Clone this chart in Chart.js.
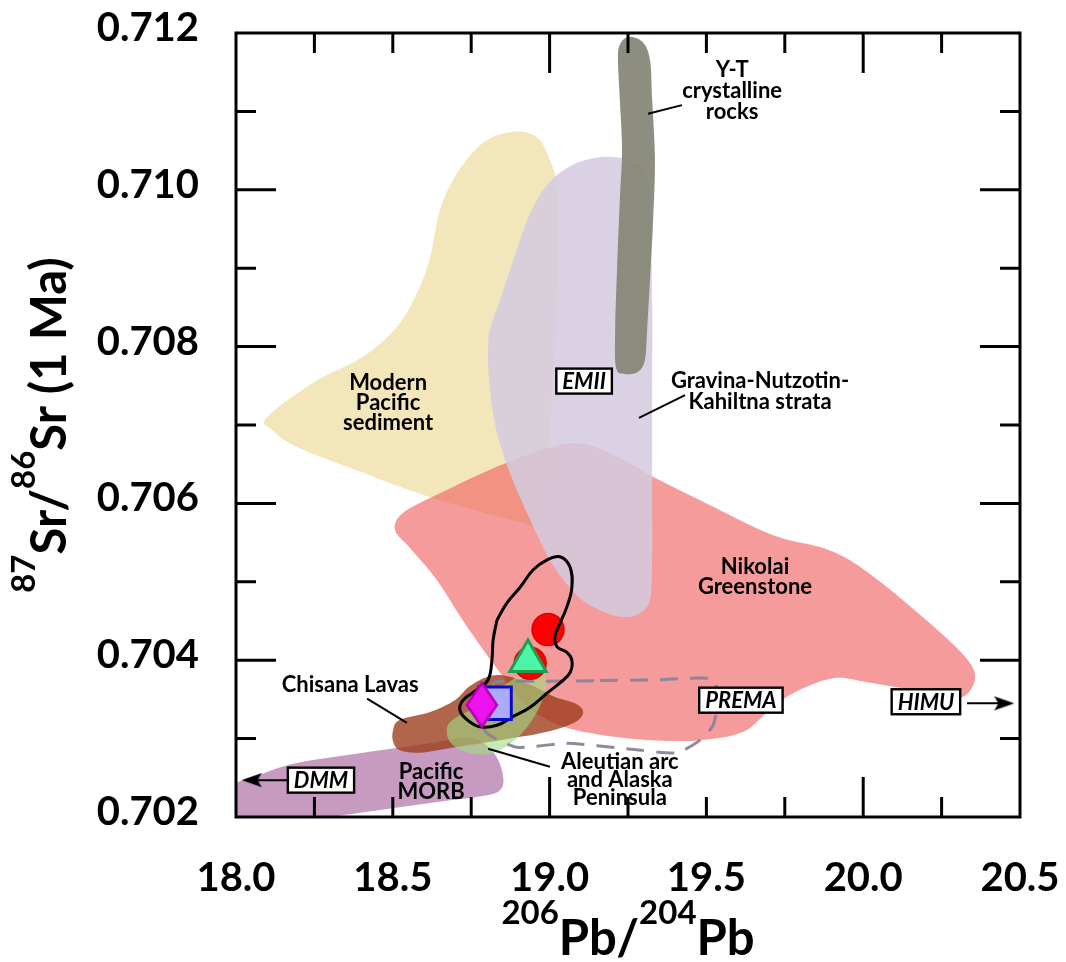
<!DOCTYPE html>
<html>
<head>
<meta charset="utf-8">
<title>87Sr/86Sr vs 206Pb/204Pb</title>
<script src="https://cdn.jsdelivr.net/npm/chart.js@4.4.1/dist/chart.umd.min.js"></script>
<style>
  html, body { margin: 0; padding: 0; background: #fff; }
  #wrap { width: 1066px; height: 962px; }
</style>
</head>
<body>
<div id="wrap"><canvas id="isoChart" width="1066" height="962"></canvas></div>
<script>
// ---- fields (206Pb/204Pb, 87Sr/86Sr) ----
const morbField = [[17.965,0.70234],[18.077,0.70254],[18.195,0.70269],[18.405,0.70282],[18.619,0.70294],[18.746,0.70301],[18.820,0.70283],[18.851,0.70254],[18.842,0.70234],[18.778,0.70226],[18.619,0.70218],[18.459,0.70209],[18.300,0.70200],[18.204,0.70194],[17.965,0.70190]];
const sedimentField = [[18.099,0.70710],[18.246,0.70754],[18.405,0.70787],[18.513,0.70825],[18.577,0.70868],[18.619,0.70914],[18.650,0.70974],[18.705,0.71021],[18.788,0.71060],[18.883,0.71074],[18.960,0.71067],[19.001,0.71038],[19.024,0.71000],[19.027,0.70910],[19.017,0.70796],[19.001,0.70694],[18.995,0.70604],[18.985,0.70569],[18.915,0.70575],[18.619,0.70608],[18.405,0.70639],[18.195,0.70672],[18.115,0.70694]];
const nikolaiField = [[18.533,0.70588],[18.650,0.70613],[18.864,0.70652],[19.075,0.70677],[19.224,0.70658],[19.330,0.70634],[19.480,0.70604],[19.709,0.70560],[19.865,0.70544],[19.955,0.70528],[20.054,0.70500],[20.152,0.70468],[20.261,0.70430],[20.334,0.70400],[20.357,0.70379],[20.334,0.70358],[20.286,0.70352],[20.159,0.70362],[20.012,0.70372],[19.904,0.70377],[19.776,0.70358],[19.693,0.70333],[19.614,0.70308],[19.480,0.70298],[19.320,0.70298],[19.161,0.70305],[19.033,0.70317],[18.922,0.70343],[18.842,0.70384],[18.733,0.70445],[18.641,0.70502],[18.555,0.70543],[18.507,0.70566]];
const gravinaField = [[19.170,0.71042],[19.256,0.71038],[19.304,0.71023],[19.320,0.70987],[19.327,0.70859],[19.327,0.70732],[19.327,0.70604],[19.327,0.70528],[19.320,0.70477],[19.288,0.70460],[19.240,0.70455],[19.177,0.70461],[19.097,0.70479],[19.011,0.70521],[18.938,0.70579],[18.864,0.70649],[18.820,0.70715],[18.804,0.70805],[18.842,0.70859],[18.874,0.70898],[18.938,0.70970],[19.001,0.71010],[19.075,0.71032]];
const ytField = [[19.250,0.71195],[19.295,0.71189],[19.320,0.71166],[19.327,0.71115],[19.336,0.71038],[19.330,0.70961],[19.320,0.70885],[19.311,0.70821],[19.304,0.70783],[19.282,0.70768],[19.240,0.70765],[19.212,0.70773],[19.209,0.70821],[19.215,0.70898],[19.224,0.70987],[19.231,0.71051],[19.224,0.71115],[19.218,0.71166],[19.224,0.71185]];
const chisanaField = [[18.501,0.70311],[18.523,0.70324],[18.619,0.70334],[18.698,0.70349],[18.746,0.70367],[18.810,0.70380],[18.874,0.70379],[18.953,0.70366],[19.017,0.70353],[19.081,0.70345],[19.107,0.70334],[19.081,0.70321],[18.985,0.70308],[18.842,0.70298],[18.698,0.70289],[18.587,0.70282],[18.523,0.70285],[18.501,0.70296]];
const aleutianField = [[18.673,0.70314],[18.682,0.70296],[18.730,0.70283],[18.800,0.70280],[18.858,0.70289],[18.912,0.70307],[18.960,0.70334],[18.985,0.70359],[18.989,0.70377],[18.963,0.70386],[18.922,0.70384],[18.851,0.70367],[18.762,0.70340],[18.698,0.70326]];

// ---- outlines ----
const premaOutline = [[19.161,0.70374],[19.350,0.70375],[19.521,0.70376],[19.537,0.70349],[19.521,0.70317],[19.480,0.70298],[19.406,0.70282],[19.247,0.70287],[19.055,0.70294],[18.896,0.70289],[18.800,0.70307],[18.772,0.70330],[18.794,0.70356],[18.830,0.70372],[18.990,0.70373],[19.161,0.70374]];
const studyOutline = [[18.832,0.70451],[18.864,0.70473],[18.906,0.70493],[18.947,0.70515],[18.992,0.70528],[19.033,0.70532],[19.065,0.70519],[19.071,0.70493],[19.055,0.70468],[19.033,0.70447],[19.017,0.70430],[19.024,0.70417],[19.055,0.70410],[19.071,0.70400],[19.065,0.70384],[19.033,0.70371],[18.992,0.70358],[18.938,0.70340],[18.883,0.70328],[18.832,0.70317],[18.778,0.70315],[18.737,0.70324],[18.714,0.70336],[18.724,0.70349],[18.768,0.70362],[18.804,0.70375],[18.816,0.70400],[18.820,0.70426],[18.832,0.70451]];

// ---- samples ----
const sampleCircles = [[18.995,0.70439],[18.938,0.70396]];
const sampleTriangle = [[18.931,0.70399]];
const sampleSquare = [[18.826,0.70345]];
const sampleDiamond = [[18.784,0.70343]];

// ---- leader lines and arrows ----
const leaderYT = [[19.314,0.71097],[19.422,0.71108]];
const leaderGravina = [[19.285,0.70709],[19.432,0.70738]];
const leaderChisana = [[18.418,0.70351],[18.545,0.70320]];
const leaderAleutian = [[18.804,0.70287],[19.001,0.70264]];
const arrowHimu = [[20.331,0.70345],[20.450,0.70345]];
const arrowDmm = [[18.163,0.70247],[18.050,0.70247]];

// ---- axes ----
const xTickMarks = [18.25, 18.5, 18.75, 19.0, 19.25, 19.5, 19.75, 20.0, 20.25];
const xLongMarks = [19.0, 20.0];
const yTickMarks = [0.703, 0.704, 0.705, 0.706, 0.707, 0.708, 0.709, 0.710, 0.711];
const yLongMarks = [0.704, 0.706, 0.708, 0.710];
const xTitle = [['206', true], ['Pb/', false], ['204', true], ['Pb', false]];
const yTitle = [['87', true], ['Sr/', false], ['86', true], ['Sr (1 Ma)', false]];

// ---- text ----
const fieldLabels = [
  { lines: ['Y-T', 'crystalline', 'rocks'], at: [19.582, 0.71153], lh: 21 },
  { lines: ['Modern', 'Pacific', 'sediment'], at: [18.485, 0.70754], lh: 20 },
  { lines: ['Gravina-Nutzotin-', 'Kahiltna strata'], at: [19.671, 0.70756], lh: 21 },
  { lines: ['Nikolai', 'Greenstone'], at: [19.655, 0.70519], lh: 20 },
  { lines: ['Chisana Lavas'], at: [18.364, 0.70368], lh: 20 },
  { lines: ['Pacific', 'MORB'], at: [18.622, 0.70257], lh: 20 },
  { lines: ['Aleutian arc', 'and Alaska', 'Peninsula'], at: [19.224, 0.70270], lh: 18 },
];
const endMembers = [
  { text: 'EMII', at: [19.110, 0.70756] },
  { text: 'PREMA', at: [19.610, 0.70349] },
  { text: 'HIMU', at: [20.200, 0.70347] },
  { text: 'DMM', at: [18.271, 0.70247] },
];

const toXY = arr => arr.map(([x, y]) => ({ x, y }));

// custom point shapes
function makeDiamond() {
  const c = document.createElement('canvas');
  c.width = 34; c.height = 48;
  const g = c.getContext('2d');
  g.beginPath();
  g.moveTo(17, 2); g.lineTo(32, 24); g.lineTo(17, 46); g.lineTo(2, 24); g.closePath();
  g.fillStyle = '#EE12EE'; g.fill();
  g.lineWidth = 2.5; g.strokeStyle = '#B800B8'; g.stroke();
  return c;
}
function makeArrowHead() {
  const c = document.createElement('canvas');
  c.width = 20; c.height = 16;
  const g = c.getContext('2d');
  g.beginPath();
  g.moveTo(0, 1); g.lineTo(20, 8); g.lineTo(0, 15); g.lineTo(4, 8); g.closePath();
  g.fillStyle = '#000'; g.fill();
  return c;
}
const diamondShape = makeDiamond();
const arrowShape = makeArrowHead();

function field(label, pts, color) {
  return { label, data: toXY(pts), fieldFill: color, showLine: false, pointRadius: 0, order: 100 };
}
function path(label, pts, opts) {
  return Object.assign({ label, data: toXY(pts), showLine: true, pointRadius: 0, fill: false }, opts);
}
function marker(label, pts, opts) {
  return Object.assign({ label, data: toXY(pts), showLine: false }, opts);
}

function traceClosed(ctx, pts) {
  const n = pts.length;
  ctx.moveTo(pts[0].x, pts[0].y);
  for (let i = 0; i < n; i++) {
    const p0 = pts[(i - 1 + n) % n], p1 = pts[i], p2 = pts[(i + 1) % n], p3 = pts[(i + 2) % n];
    ctx.bezierCurveTo(
      p1.x + (p2.x - p0.x) / 6, p1.y + (p2.y - p0.y) / 6,
      p2.x - (p3.x - p1.x) / 6, p2.y - (p3.y - p1.y) / 6,
      p2.x, p2.y);
  }
  ctx.closePath();
}

function drawRich(ctx, parts, cx, base) {
  const mainFont = 'bold 49px Lato', supFont = 'bold 33px Lato';
  const widths = parts.map(([t, sup]) => { ctx.font = sup ? supFont : mainFont; return ctx.measureText(t).width; });
  let x = cx - widths.reduce((s, w) => s + w, 0) / 2;
  ctx.textAlign = 'left';
  ctx.textBaseline = 'alphabetic';
  parts.forEach(([t, sup], i) => {
    ctx.font = sup ? supFont : mainFont;
    ctx.fillText(t, x, sup ? base - 31 : base);
    x += widths[i];
  });
}

const isoPlugin = {
  id: 'iso',
  beforeDraw(chart) {
    const ctx = chart.ctx;
    ctx.save();
    ctx.fillStyle = '#fff';
    ctx.fillRect(0, 0, chart.width, chart.height);
    ctx.restore();
  },
  beforeDatasetsDraw(chart) {
    const ctx = chart.ctx, a = chart.chartArea;
    ctx.save();
    ctx.beginPath();
    ctx.rect(a.left, a.top, a.right - a.left, a.bottom - a.top);
    ctx.clip();
    chart.data.datasets.forEach((ds, i) => {
      if (!ds.fieldFill) return;
      const pts = chart.getDatasetMeta(i).data.map(p => ({ x: p.x, y: p.y }));
      ctx.beginPath();
      traceClosed(ctx, pts);
      ctx.fillStyle = ds.fieldFill;
      ctx.fill();
    });
    ctx.restore();
  },
  afterDatasetsDraw(chart) {
    const ctx = chart.ctx, a = chart.chartArea;
    const xs = chart.scales.x, ys = chart.scales.y;
    ctx.save();
    ctx.fillStyle = '#000';

    // labels
    ctx.textAlign = 'center';
    ctx.textBaseline = 'middle';
    ctx.font = 'bold 22px Lato';
    fieldLabels.forEach(l => {
      const px = xs.getPixelForValue(l.at[0]), py = ys.getPixelForValue(l.at[1]);
      l.lines.forEach((t, i) => ctx.fillText(t, px, py + i * l.lh));
    });
    ctx.font = 'italic bold 22px Lato';
    endMembers.forEach(m => {
      const px = xs.getPixelForValue(m.at[0]), py = ys.getPixelForValue(m.at[1]);
      const w = ctx.measureText(m.text).width + 12, h = 25;
      ctx.fillStyle = '#fff';
      ctx.fillRect(px - w / 2, py - h / 2, w, h);
      ctx.lineWidth = 2.4;
      ctx.strokeStyle = '#000';
      ctx.strokeRect(px - w / 2, py - h / 2, w, h);
      ctx.fillStyle = '#000';
      ctx.fillText(m.text, px, py + 1);
    });

    // frame + inward ticks
    ctx.strokeStyle = '#000';
    ctx.lineWidth = 3;
    ctx.beginPath();
    xTickMarks.forEach(v => {
      const len = xLongMarks.includes(v) ? 40 : 20, px = xs.getPixelForValue(v);
      ctx.moveTo(px, a.bottom); ctx.lineTo(px, a.bottom - len);
      ctx.moveTo(px, a.top); ctx.lineTo(px, a.top + len);
    });
    yTickMarks.forEach(v => {
      const len = yLongMarks.includes(v) ? 40 : 20, py = ys.getPixelForValue(v);
      ctx.moveTo(a.left, py); ctx.lineTo(a.left + len, py);
      ctx.moveTo(a.right, py); ctx.lineTo(a.right - len, py);
    });
    ctx.stroke();
    ctx.strokeRect(a.left, a.top, a.right - a.left, a.bottom - a.top);

    // axis titles
    ctx.fillStyle = '#000';
    drawRich(ctx, xTitle, (a.left + a.right) / 2, a.bottom + 138);
    ctx.translate(66, (a.top + a.bottom) / 2);
    ctx.rotate(-Math.PI / 2);
    drawRich(ctx, yTitle, 0, 0);
    ctx.restore();
  }
};

const tickFont = { family: 'Lato', size: 40, weight: 'bold' };

new Chart(document.getElementById('isoChart'), {
  type: 'scatter',
  data: {
    datasets: [
      field('Pacific MORB', morbField, '#C79BC1'),
      field('Modern Pacific sediment', sedimentField, '#F3E6BB'),
      field('Nikolai Greenstone', nikolaiField, 'rgba(239,99,99,0.64)'),
      field('Gravina-Nutzotin-Kahiltna strata', gravinaField, 'rgba(212,203,223,0.86)'),
      field('Y-T crystalline rocks', ytField, 'rgba(132,133,118,0.93)'),
      field('Chisana Lavas', chisanaField, 'rgba(155,58,24,0.78)'),
      field('Aleutian arc and Alaska Peninsula', aleutianField, 'rgba(160,222,130,0.6)'),
      path('PREMA field', premaOutline, { borderColor: 'rgba(135,132,152,0.95)', borderWidth: 3, borderDash: [18, 12], tension: 0.2, order: 60 }),
      marker('Samples (circle)', sampleCircles, { pointStyle: 'circle', pointRadius: 16, backgroundColor: '#FF0000', borderColor: 'rgba(205,0,0,0.9)', borderWidth: 1.5, order: 50 }),
      path('Study outline', studyOutline, { borderColor: '#000', borderWidth: 3, tension: 0.4, order: 40 }),
      marker('Samples (triangle)', sampleTriangle, { pointStyle: 'triangle', pointRadius: 21, backgroundColor: '#4CF5A8', borderColor: '#1F9E52', borderWidth: 3, order: 30 }),
      marker('Samples (square)', sampleSquare, { pointStyle: 'rect', pointRadius: 23, backgroundColor: '#ABABF8', borderColor: '#0A0ACC', borderWidth: 3, order: 20 }),
      marker('Samples (diamond)', sampleDiamond, { pointStyle: diamondShape, pointRadius: 20, order: 10 }),
      path('leader Y-T', leaderYT, { borderColor: '#000', borderWidth: 2, order: 5 }),
      path('leader Gravina', leaderGravina, { borderColor: '#000', borderWidth: 2, order: 5 }),
      path('leader Chisana', leaderChisana, { borderColor: '#000', borderWidth: 2, order: 5 }),
      path('leader Aleutian', leaderAleutian, { borderColor: '#000', borderWidth: 2, order: 5 }),
      path('HIMU arrow', arrowHimu, { borderColor: '#000', borderWidth: 2, pointRadius: [0, 2], pointStyle: arrowShape, pointRotation: 0, order: 5 }),
      path('DMM arrow', arrowDmm, { borderColor: '#000', borderWidth: 2, pointRadius: [0, 2], pointStyle: arrowShape, pointRotation: 180, order: 5 }),
    ],
  },
  options: {
    responsive: false,
    animation: false,
    events: [],
    layout: { padding: { top: 33, right: 46, bottom: 0, left: 0 } },
    plugins: { legend: { display: false }, tooltip: { enabled: false } },
    scales: {
      x: {
        type: 'linear', min: 18, max: 20.5,
        grid: { display: false }, border: { display: false },
        ticks: { stepSize: 0.5, padding: 29, maxRotation: 0, autoSkip: false, color: '#000', font: tickFont, callback: v => v.toFixed(1) },
        afterFit: s => { s.height = 145; s.paddingLeft = 0; s.paddingRight = 0; },
      },
      y: {
        type: 'linear', min: 0.702, max: 0.712,
        grid: { display: false }, border: { display: false },
        ticks: { stepSize: 0.002, padding: 29, labelOffset: -5, autoSkip: false, color: '#000', font: tickFont, callback: v => v.toFixed(3) },
        afterFit: s => { s.width = 236; s.paddingTop = 0; s.paddingBottom = 0; },
      },
    },
  },
  plugins: [isoPlugin],
});
</script>
</body>
</html>
